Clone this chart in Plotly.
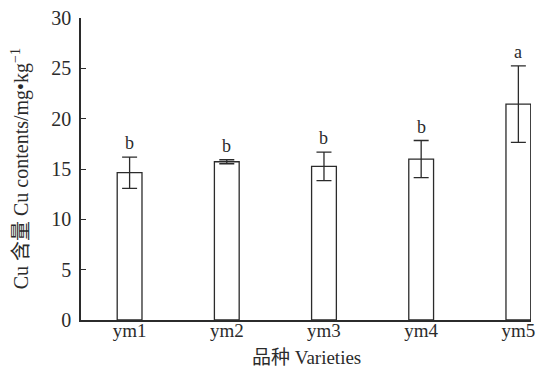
import plotly.graph_objects as go

varieties = ["ym1", "ym2", "ym3", "ym4", "ym5"]
cu_mean = [14.63, 15.72, 15.26, 15.99, 21.45]
cu_sd = [1.55, 0.20, 1.42, 1.84, 3.80]
letters = ["b", "b", "b", "b", "a"]

positions = list(range(1, len(varieties) + 1))
serif = "Liberation Serif, Times New Roman, serif"
cjk = "Noto Sans CJK SC, serif"
ink = "#2b2b2b"


def mixed(zh, en):
    """Chinese part in the CJK face, Latin part in the serif face."""
    return (f"<span style='font-family:{cjk}'>{zh}</span> "
            f"<span style='font-family:Liberation Serif'>{en}</span>")


fig = go.Figure()
fig.add_trace(go.Bar(
    x=positions, y=cu_mean, width=0.255,
    marker=dict(color="white", line=dict(color=ink, width=1.3)),
    error_y=dict(type="data", array=cu_sd, visible=True,
                 color=ink, thickness=1.3, width=7.5),
    showlegend=False,
))

# significance letters above each error bar
for p, m, s, t in zip(positions, cu_mean, cu_sd, letters):
    fig.add_annotation(x=p, y=m + s, text=t, showarrow=False,
                       yanchor="bottom", yshift=2,
                       font=dict(family=serif, size=18, color=ink))

fig.add_annotation(xref="paper", yref="paper", x=-0.137, y=0.5,
                   xanchor="center", yanchor="middle",
                   text="<span style='font-family:Liberation Serif'>Cu</span> "
                        + mixed("含量", "Cu contents/mg•kg<sup>−1</sup>"),
                   textangle=-90, showarrow=False,
                   font=dict(family=serif, size=20, color=ink))
fig.add_annotation(xref="paper", yref="paper", x=0.5, y=-0.116,
                   yanchor="middle",
                   text=mixed("品种", "Varieties"), showarrow=False,
                   font=dict(family=serif, size=19, color=ink))

fig.update_layout(
    width=540, height=373,
    margin=dict(l=81, r=5, t=18, b=53),
    paper_bgcolor="white", plot_bgcolor="white",
    xaxis=dict(range=[0.5, 5.13], tickvals=positions, ticktext=varieties,
               showline=True, linecolor=ink, linewidth=1.5,
               ticks="", showgrid=False, zeroline=False,
               ticklabelstandoff=-8,
               tickfont=dict(family=serif, size=19, color=ink)),
    yaxis=dict(range=[0, 30], dtick=5, showline=True, linecolor=ink,
               linewidth=1.5, ticks="inside", ticklen=5, tickcolor=ink,
               tickwidth=1.3, showgrid=False, zeroline=False,
               ticklabelstandoff=4,
               tickfont=dict(family=serif, size=20, color=ink)),
)

fig.write_html("out.html")
